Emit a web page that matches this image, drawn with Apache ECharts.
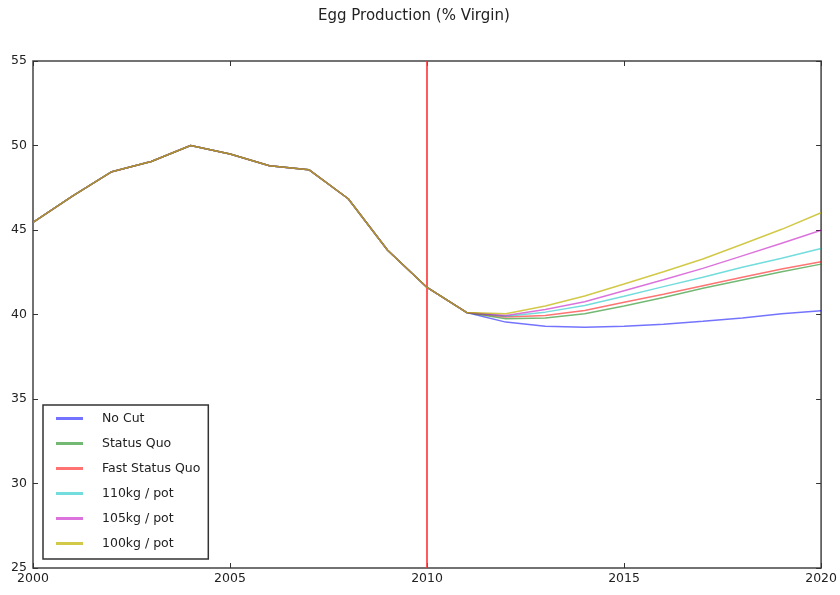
<!DOCTYPE html>
<html>
<head>
<meta charset="utf-8">
<script src="https://cdn.jsdelivr.net/npm/echarts@6/dist/echarts.min.js"></script>
<style>html,body{margin:0;padding:0;background:#fff;}#c{width:840px;height:595px;}</style>
</head>
<body>
<div id="c"></div>
<script>
var years = [2000,2001,2002,2003,2004,2005,2006,2007,2008,2009,2010,2011,2012,2013,2014,2015,2016,2017,2018,2019,2020];
var historical = [45.45, 47.0, 48.45, 49.05, 50.0, 49.5, 48.8, 48.57, 46.85, 43.8, 41.6, 40.12];
var noCut = [39.55, 39.3, 39.24, 39.3, 39.43, 39.6, 39.8, 40.04, 40.22];
var statusQuo = [39.75, 39.8, 40.04, 40.5, 41.0, 41.55, 42.04, 42.53, 42.98];
var fastStatusQuo = [39.85, 39.94, 40.24, 40.73, 41.2, 41.7, 42.2, 42.69, 43.12];
var kg110 = [39.9, 40.14, 40.53, 41.08, 41.65, 42.2, 42.79, 43.33, 43.9];
var kg105 = [39.94, 40.3, 40.76, 41.41, 42.06, 42.73, 43.47, 44.22, 44.98];
var kg100 = [40.04, 40.5, 41.1, 41.8, 42.53, 43.28, 44.16, 45.04, 46.02];
var seriesNames = ['No Cut', 'Status Quo', 'Fast Status Quo', '110kg / pot', '105kg / pot', '100kg / pot'];
var seriesColors = ['rgba(0,0,255,0.55)', 'rgba(0,128,0,0.55)', 'rgba(255,0,0,0.55)', 'rgba(0,191,191,0.55)', 'rgba(191,0,191,0.55)', 'rgba(191,180,0,0.72)'];
var scenarios = [noCut, statusQuo, fastStatusQuo, kg110, kg105, kg100];
var cutYear = 2010;

function pairs(vals) {
  var all = historical.concat(vals);
  return all.map(function (v, i) { return [years[i], v]; });
}

var FONT = 'DejaVu Sans';
var series = scenarios.map(function (vals, i) {
  return {
    name: seriesNames[i],
    type: 'line',
    data: pairs(vals),
    symbol: 'none',
    smooth: false,
    color: seriesColors[i],
    lineStyle: { width: 1.5, color: seriesColors[i] },
    z: 2 + i
  };
});
series.push({
  name: 'cut',
  type: 'line',
  data: [],
  markLine: {
    silent: true,
    symbol: ['none', 'none'],
    label: { show: false },
    lineStyle: { type: 'solid', color: 'rgba(255,50,50,0.8)', width: 2 },
    data: [{ xAxis: cutYear }]
  },
  z: 1
});

var chart = echarts.init(document.getElementById('c'), null, { renderer: 'canvas' });
var gridPos = { left: 33, right: 17, top: 61, bottom: 27 };
chart.setOption({
  animation: false,
  backgroundColor: '#fff',
  title: {
    text: 'Egg Production (% Virgin)',
    left: 318,
    top: 9,
    padding: 0,
    textStyle: { fontFamily: FONT, fontSize: 15, fontWeight: 'normal', color: '#222' }
  },
  grid: Object.assign({ show: true, borderColor: '#444', borderWidth: 1.5, backgroundColor: 'transparent' }, gridPos),
  legend: {
    data: seriesNames,
    orient: 'vertical',
    left: 43,
    top: 405,
    padding: [6, 8, 8, 13],
    itemGap: 10,
    itemWidth: 27,
    itemHeight: 3,
    icon: 'rect',
    borderColor: '#333',
    borderWidth: 1.5,
    backgroundColor: '#fff',
    textStyle: { fontFamily: FONT, fontSize: 12.5, color: '#222', lineHeight: 15, padding: [0, 0, 0, 14] }
  },
  xAxis: [{
    type: 'value', min: 2000, max: 2020, interval: 5, position: 'bottom',
    axisLine: { show: false },
    axisTick: { show: true, inside: true, length: 5, lineStyle: { color: '#333' } },
    splitLine: { show: false },
    axisLabel: { fontFamily: FONT, fontSize: 12.5, color: '#222', margin: 4, formatter: function (v) { return String(v); } }
  }, {
    type: 'value', min: 2000, max: 2020, interval: 5, position: 'top',
    axisLine: { show: false },
    axisTick: { show: true, inside: true, length: 5, lineStyle: { color: '#333' } },
    splitLine: { show: false },
    axisLabel: { show: false }
  }],
  yAxis: [{
    type: 'value', min: 25, max: 55, interval: 5, position: 'left',
    axisLine: { show: false },
    axisTick: { show: true, inside: true, length: 5, lineStyle: { color: '#333' } },
    splitLine: { show: false },
    axisLabel: { fontFamily: FONT, fontSize: 12.5, color: '#222', margin: 6 }
  }, {
    type: 'value', min: 25, max: 55, interval: 5, position: 'right',
    axisLine: { show: false },
    axisTick: { show: true, inside: true, length: 5, lineStyle: { color: '#333' } },
    splitLine: { show: false },
    axisLabel: { show: false }
  }],
  series: series
});
</script>
</body>
</html>
